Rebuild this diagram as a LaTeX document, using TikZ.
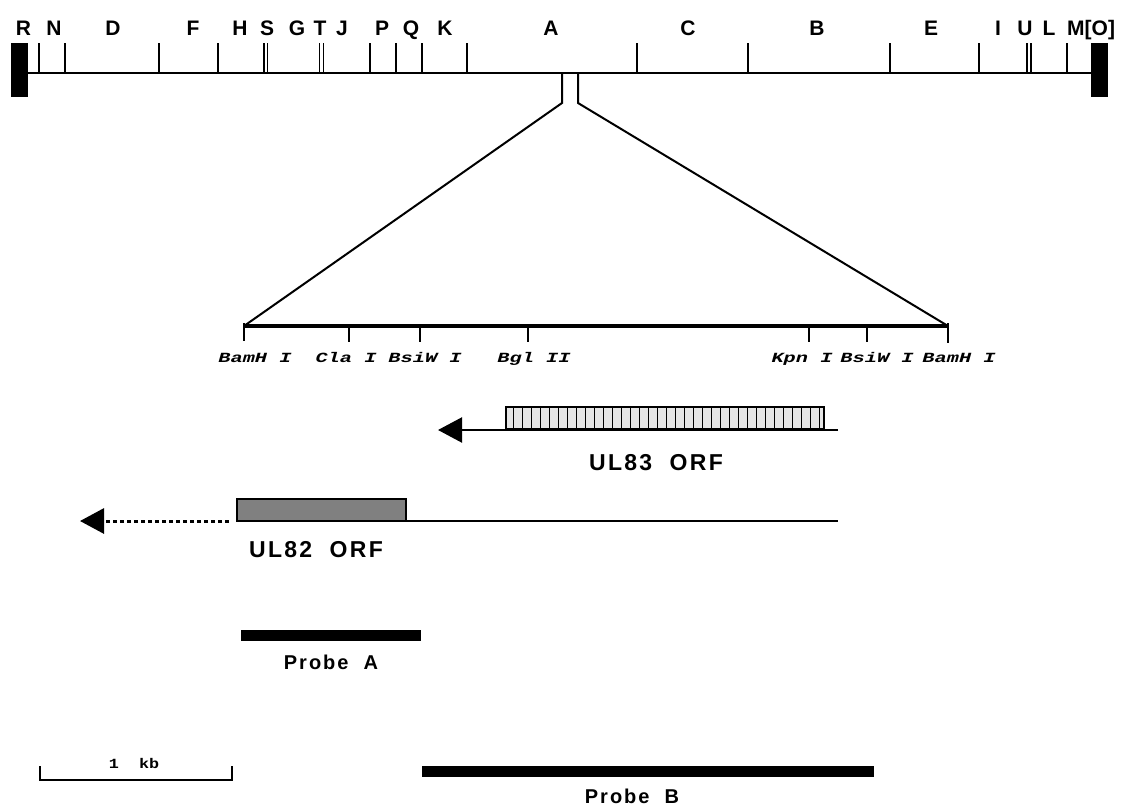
\documentclass[tikz,border=0pt]{standalone}
\usepackage{fontspec}
\setmainfont{Liberation Sans}
\newfontfamily\lblfont[LetterSpace=10]{Liberation Sans}
\newfontfamily\enzfont[FakeStretch=1.45]{Liberation Mono}
\newfontfamily\kbfont[FakeStretch=1.2]{Liberation Mono}
\usetikzlibrary{arrows.meta,calc}
\begin{document}
\begin{tikzpicture}[x=1pt,y=-1pt,
  mapline/.style={line width=2pt},
  maptick/.style={line width=1.5pt},
  maplbl/.style={font=\fontsize{21}{21}\selectfont\bfseries, inner sep=0pt, anchor=base},
  enz/.style={font=\enzfont\fontsize{14}{14}\selectfont\itshape\bfseries, inner sep=0pt, anchor=base},
  orflbl/.style={font=\lblfont\fontsize{23}{23}\selectfont\bfseries, inner sep=0pt, anchor=base},
  problbl/.style={font=\lblfont\fontsize{20}{20}\selectfont\bfseries, inner sep=0pt, anchor=base},
  probe/.style={line width=11pt},
  bigarrow/.style={-{Triangle[length=24pt,width=25pt]}},
  endblock/.style={fill=black}]
\useasboundingbox (0,0) rectangle (1129,806);

% ---------- genome map ----------
\fill[endblock] (11,42.5) rectangle (28,96.5);
\fill[endblock] (1091,42.5) rectangle (1108,96.5);
\coordinate (mapL) at (28,73);
\coordinate (mapR) at (1091,73);
\draw[mapline] (mapL) -- (mapR);
\foreach \x in {39,65,159,218,264,267.5,319.5,323.5,370,396,422,467,637,748,890,979,1027,1031,1067}
  \draw[maptick] (\x,73) -- (\x,43);
\foreach \nm/\x/\t in {R/23.5/R,N/54/N,D/113/D,F/193/F,H/240/H,S/267/S,G/297/G,T/320/T,J/342/J,P/382/P,Q/411/Q,K/445/K,A/551/A,C/688/C,B/817/B,E/931/E,I/998/I,U/1025/U,L/1049/L}
  \node[maplbl] (lab\nm) at (\x,35) {\t};
\node[maplbl, anchor=base west] (labMO) at (1067,35) {M[O]};

% ---------- expansion ----------
\coordinate (h1) at (562,73);
\coordinate (h1b) at (562,103);
\coordinate (h2) at (578,73);
\coordinate (h2b) at (578,103);
\coordinate (bL) at (244,326);
\coordinate (bR) at (948,326);
\draw[mapline] (h1) -- (h1b) -- (bL);
\draw[mapline] (h2) -- (h2b) -- (bR);
\draw[line width=4pt] (bL) -- (bR);
\draw[maptick] (244,323) -- (244,341);
\draw[maptick] (948,323) -- (948,343);
\foreach \x in {349,420,528,809,867}
  \draw[maptick] (\x,327) -- (\x,342);
\node[enz] (e1) at (255,362) {BamH I};
\node[enz] (e2) at (346,362) {Cla I};
\node[enz] (e3) at (425,362) {BsiW I};
\node[enz] (e4) at (534,362) {Bgl II};
\node[enz] (e5) at (802,362) {Kpn I};
\node[enz] (e6) at (877,362) {BsiW I};
\node[enz] (e7) at (959,362) {BamH I};

% ---------- UL83 ----------
\coordinate (a83s) at (838,430);
\coordinate (a83e) at (438,430);
\draw[line width=2.2pt, bigarrow] (a83s) -- (a83e);
\node[draw, line width=2pt, fill=gray!20, minimum width=318pt, minimum height=22pt, inner sep=0pt, anchor=south west] (orf83) at (504.5,430) {};
\foreach \i in {1,...,35}
  \draw[line width=1.8pt] (504.5+\i*9,408) -- (504.5+\i*9,430);
\node[orflbl] (l83) at (656,470) {UL83\ \ ORF};

% ---------- UL82 ----------
\coordinate (a82s) at (405,521);
\coordinate (a82r) at (838,521);
\coordinate (a82d) at (229,521);
\coordinate (a82e) at (80,521);
\draw[line width=2.2pt] (a82s) -- (a82r);
\draw[line width=3pt, dash pattern=on 4pt off 3pt, bigarrow] (a82d) -- (a82e);
\node[draw, line width=2pt, fill=gray, minimum width=169pt, minimum height=21.5pt, inner sep=0pt, anchor=south west] (orf82) at (236,521.5) {};
\node[orflbl] (l82) at (316,557) {UL82\ \ ORF};

% ---------- probes ----------
\coordinate (pa1) at (241,635);
\coordinate (pa2) at (421,635);
\draw[probe] (pa1) -- (pa2);
\node[problbl] (lpa) at (331,669) {Probe\ \ A};
\coordinate (pb1) at (422,771);
\coordinate (pb2) at (874,771);
\draw[probe] (pb1) -- (pb2);
\node[problbl] (lpb) at (632,803) {Probe\ \ B};

% ---------- scale bar ----------
\coordinate (s1) at (40,766);
\coordinate (s2) at (232,766);
\draw[line width=1.5pt] (s1) -- (40,780) -- (232,780) -- (s2);
\node[font=\kbfont\fontsize{14}{14}\selectfont\bfseries, inner sep=0pt, anchor=base] (kb) at (134,768) {1\ \ kb};
\end{tikzpicture}
\end{document}
